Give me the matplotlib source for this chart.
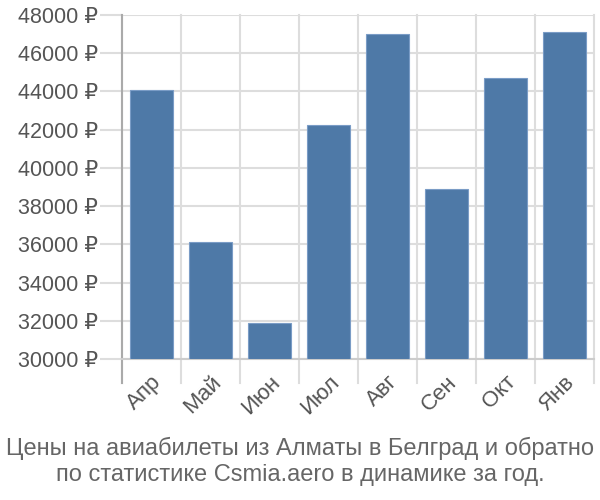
import matplotlib
matplotlib.use('Agg')
import matplotlib.pyplot as plt

# Data
months = ['Апр', 'Май', 'Июн', 'Июл', 'Авг', 'Сен', 'Окт', 'Янв']
prices = [44050, 36120, 31880, 42230, 47000, 38880, 44720, 47120]
yticks = list(range(30000, 48001, 2000))
title = 'Цены на авиабилеты из Алматы в Белград и обратно\nпо статистике Csmia.aero в динамике за год.'

plt.rcParams['font.family'] = ['Liberation Sans', 'DejaVu Sans']

fig = plt.figure(figsize=(6, 5), dpi=100)
ax = fig.add_axes([0.203, 0.282, 0.787, 0.688])

x = list(range(len(months)))
ax.bar(x, [p - 30000 for p in prices], bottom=30000, width=0.72,
       color='#4e79a7', edgecolor='#7a9cc6', linewidth=0.8, zorder=3)

ax.set_xlim(-0.5, len(months) - 0.5)
ax.set_ylim(30000, 48000)
ax.set_yticks(yticks)
ax.set_yticklabels([f'{v} ₽' for v in yticks], fontsize=15.5, color='#555555')
ax.set_xticks(x)
ax.set_xticklabels(months, rotation=45, ha='right', rotation_mode='anchor',
                   fontsize=16, color='#555555')

# vertical grid at category boundaries
for b in [i - 0.5 for i in range(len(months) + 1)]:
    ax.axvline(b, color='#dddddd', linewidth=1.5, zorder=1, clip_on=False,
               ymin=-0.07, ymax=1)
ax.grid(axis='y', color='#dddddd', linewidth=1.5, zorder=1)
ax.tick_params(axis='y', length=16, color='#dddddd', width=1.5, pad=1)
ax.tick_params(axis='x', length=0, pad=9)

for s in ['top', 'right']:
    ax.spines[s].set_visible(False)
ax.spines['bottom'].set_color('#cccccc')
ax.spines['bottom'].set_linewidth(1.5)
ax.spines['left'].set_visible(False)
ax.axvline(-0.5, color='#aaaaaa', linewidth=1.5, zorder=2, clip_on=False,
           ymin=-0.07, ymax=1)

fig.text(0.5, 0.028, title, ha='center', va='bottom', fontsize=17,
         color='#666666', linespacing=1.25)

fig.savefig('out.png', dpi=100)
